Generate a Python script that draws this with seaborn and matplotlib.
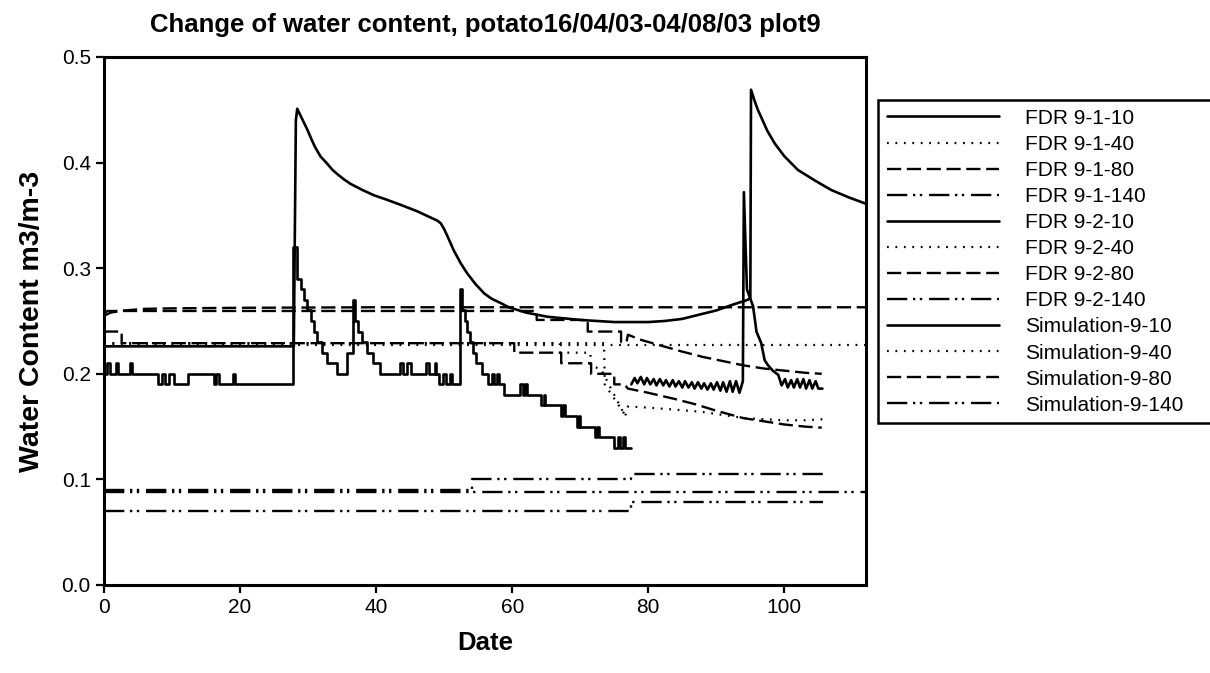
import matplotlib
matplotlib.use("Agg")
import matplotlib.pyplot as plt
import seaborn as sns

# ---------------- data ----------------
# FDR 9-1-10 : stepped record (steps-post), days 0 - 77.5
fdr_1_10_x = [0, 0.4, 0.9, 1.7, 2.0, 3.8, 4.1, 8.0, 8.5, 9.0, 9.6, 10.3, 12.4, 16.1, 16.5,
              16.9, 19.0, 19.2, 27.8, 28.3, 28.9, 29.4, 29.9, 30.4, 30.8, 31.3, 32.1,
              32.8, 34.3, 35.7, 36.6, 36.9, 37.4, 37.9, 38.6, 39.6, 40.5, 43.5, 44.0,
              44.6, 45.1, 47.3, 47.7, 48.6, 48.8, 49.3, 49.8, 50.3, 50.8, 51.2, 52.3,
              52.6, 53.0, 53.4, 53.8, 54.2, 54.7, 55.5, 56.5, 57.0, 57.3, 57.7, 58.0,
              58.8, 61.2, 61.6, 61.9, 62.2, 64.2, 64.6, 64.8, 67.2, 67.5, 67.7, 69.5,
              69.8, 70.0, 72.2, 72.5, 72.7, 75.0, 75.5, 75.8, 76.3, 76.6, 77.5]
fdr_1_10_y = [0.20, 0.21, 0.20, 0.21, 0.20, 0.21, 0.20, 0.19, 0.20, 0.19, 0.20, 0.19, 0.20, 0.19, 0.20,
              0.19, 0.20, 0.19, 0.32, 0.29, 0.28, 0.27, 0.26, 0.25, 0.24, 0.23, 0.22,
              0.21, 0.20, 0.22, 0.27, 0.25, 0.24, 0.23, 0.22, 0.21, 0.20, 0.21, 0.20,
              0.21, 0.20, 0.21, 0.20, 0.21, 0.20, 0.19, 0.20, 0.19, 0.20, 0.19, 0.28,
              0.26, 0.25, 0.24, 0.23, 0.22, 0.21, 0.20, 0.19, 0.20, 0.19, 0.20, 0.19,
              0.18, 0.19, 0.18, 0.19, 0.18, 0.17, 0.18, 0.17, 0.16, 0.17, 0.16, 0.15,
              0.16, 0.15, 0.14, 0.15, 0.14, 0.13, 0.14, 0.13, 0.14, 0.13, 0.13]

# FDR 9-2-10 : zig-zag record, days 77.5 - 105.6
fdr_2_10_x = [77.5, 78.0, 78.4, 78.9, 79.4, 79.8, 80.3, 80.8, 81.2, 81.7, 82.2, 82.6, 83.1, 83.6,
              84.0, 84.5, 85.0, 85.4, 85.9, 86.4, 86.8, 87.3, 87.8, 88.2, 88.7, 89.2, 89.6,
              90.1, 90.6, 91.0, 91.5, 92.0, 92.4, 92.9, 93.4, 93.9, 94.05, 94.5, 95.4, 95.9,
              96.6, 97.1, 97.6, 98.3, 99.1, 99.6, 100.1, 100.5, 101.0, 101.4, 101.9, 102.3,
              102.8, 103.2, 103.7, 104.1, 104.6, 105.0, 105.6]
fdr_2_10_y = [0.190, 0.196, 0.191, 0.197, 0.190, 0.196, 0.190, 0.195, 0.189, 0.195, 0.189, 0.194,
              0.188, 0.194, 0.188, 0.193, 0.187, 0.193, 0.187, 0.192, 0.186, 0.192, 0.186,
              0.191, 0.185, 0.191, 0.185, 0.192, 0.184, 0.192, 0.183, 0.193, 0.183, 0.193,
              0.182, 0.193, 0.372, 0.280, 0.264, 0.240, 0.229, 0.213, 0.208, 0.203, 0.199,
              0.189, 0.195, 0.187, 0.194, 0.187, 0.195, 0.187, 0.195, 0.186, 0.194, 0.186,
              0.193, 0.186, 0.186]

# FDR 9-1-40 (dotted)
fdr_1_40_x = [0, 67.0, 67.0, 71.5, 71.5, 73.0, 76.6, 77.0, 80.0, 84.0, 87.8, 91.0, 94.2, 97.0,
              100.0, 103.0, 105.7]
fdr_1_40_y = [0.229, 0.229, 0.220, 0.220, 0.207, 0.205, 0.160, 0.169, 0.168, 0.166, 0.164,
              0.161, 0.158, 0.157, 0.156, 0.156, 0.157]

# FDR 9-2-40 (dotted)
fdr_2_40_x = [0, 73.5, 73.6, 76.7]
fdr_2_40_y = [0.229, 0.229, 0.190, 0.160]

# FDR 9-1-80 (dashed)
fdr_1_80_x = [0, 0.5, 63.6, 63.6, 71.1, 71.1, 76.0, 76.0, 76.8, 77.0, 79.0, 81.7, 85.0, 88.0,
              91.0, 94.0, 97.0, 100.0, 103.0, 105.5]
fdr_1_80_y = [0.257, 0.2595, 0.2595, 0.251, 0.251, 0.240, 0.240, 0.230, 0.230, 0.237, 0.232,
              0.227, 0.221, 0.216, 0.212, 0.208, 0.205, 0.203, 0.201, 0.200]

# FDR 9-2-80 (dashed)
fdr_2_80_x = [0, 2.6, 2.6, 60.3, 60.3, 67.2, 67.2, 71.6, 71.6, 75.0, 75.0, 76.5, 77.0, 80.0,
              82.0, 84.0, 87.0, 90.0, 94.0, 97.0, 100.0, 103.0, 105.5]
fdr_2_80_y = [0.240, 0.240, 0.229, 0.229, 0.220, 0.220, 0.210, 0.210, 0.200, 0.200, 0.190,
              0.190, 0.186, 0.182, 0.179, 0.176, 0.171, 0.165, 0.158, 0.155, 0.152, 0.150, 0.149]

# FDR 9-1-140 / 9-2-140 (dash-dot-dot, stepped)
fdr_1_140_x = [0, 54.1, 54.1, 77.5, 77.5, 105.7]
fdr_1_140_y = [0.090, 0.090, 0.100, 0.100, 0.105, 0.105]
fdr_2_140_x = [0, 77.5, 77.5, 105.7]
fdr_2_140_y = [0.070, 0.070, 0.079, 0.079]

# Simulations
sim_10_x = [0, 27.9, 28.2, 28.4, 29.0, 29.9, 30.5, 31.0, 31.8, 32.8, 33.6, 34.5, 35.3, 36.2,
            38.0, 39.7, 41.5, 43.6, 46.0, 48.0, 49.0, 49.5, 50.0, 50.5, 51.4, 52.4, 53.4,
            54.6, 55.9, 57.0, 58.3, 59.5, 62.0, 65.2, 70.0, 75.0, 80.0, 82.4, 85.0, 87.3,
            90.0, 92.2, 94.6, 95.0, 95.1, 95.6, 96.1, 96.6, 97.5, 98.6, 100.0, 102.0,
            104.5, 106.9, 109.5, 112.0]
sim_10_y = [0.226, 0.226, 0.440, 0.451, 0.443, 0.431, 0.422, 0.415, 0.406, 0.399, 0.393,
            0.388, 0.384, 0.380, 0.374, 0.369, 0.365, 0.360, 0.354, 0.348, 0.345, 0.3425,
            0.337, 0.330, 0.317, 0.305, 0.295, 0.285, 0.276, 0.271, 0.267, 0.263, 0.258,
            0.254, 0.251, 0.249, 0.249, 0.250, 0.252, 0.2557, 0.260, 0.265, 0.270, 0.272,
            0.469, 0.459, 0.450, 0.443, 0.430, 0.418, 0.406, 0.393, 0.383, 0.374, 0.367,
            0.361]
sim_40_x = [0, 112.0]
sim_40_y = [0.227, 0.227]
sim_80_x = [0, 1.0, 3.0, 6.0, 10.0, 20.0, 40.0, 112.0]
sim_80_y = [0.255, 0.258, 0.260, 0.2615, 0.262, 0.2625, 0.263, 0.263]
sim_140_x = [0, 112.0]
sim_140_y = [0.0885, 0.0885]

labels = ["FDR 9-1-10", "FDR 9-1-40", "FDR 9-1-80", "FDR 9-1-140",
          "FDR 9-2-10", "FDR 9-2-40", "FDR 9-2-80", "FDR 9-2-140",
          "Simulation-9-10", "Simulation-9-40", "Simulation-9-80", "Simulation-9-140"]
x_ticks = [0, 20, 40, 60, 80, 100]
y_ticks = [0.0, 0.1, 0.2, 0.3, 0.4, 0.5]

# ---------------- styling ----------------
sns.set_theme(style="white")
plt.rcParams["font.family"] = ["Liberation Sans", "DejaVu Sans"]
plt.rcParams.update({"text.color": "black", "axes.labelcolor": "black",
                     "xtick.color": "black", "ytick.color": "black"})

solid = "-"
dotted = (0, (0.8, 3.0))
dashed = (0, (6.0, 2.4))
dashdotdot = (0, (8.6, 2.4, 1.0, 1.9, 1.0, 2.9))

series = [
    (fdr_1_10_x, fdr_1_10_y, solid, "steps-post"),
    (fdr_1_40_x, fdr_1_40_y, dotted, "default"),
    (fdr_1_80_x, fdr_1_80_y, dashed, "default"),
    (fdr_1_140_x, fdr_1_140_y, dashdotdot, "default"),
    (fdr_2_10_x, fdr_2_10_y, solid, "default"),
    (fdr_2_40_x, fdr_2_40_y, dotted, "default"),
    (fdr_2_80_x, fdr_2_80_y, dashed, "default"),
    (fdr_2_140_x, fdr_2_140_y, dashdotdot, "default"),
    (sim_10_x, sim_10_y, solid, "default"),
    (sim_40_x, sim_40_y, dotted, "default"),
    (sim_80_x, sim_80_y, dashed, "default"),
    (sim_140_x, sim_140_y, dashdotdot, "default"),
]

W, H = 1210, 673
fig = plt.figure(figsize=(W / 100, H / 100), dpi=100)
ax = fig.add_axes([104 / W, 1 - 585 / H, (866 - 104) / W, (585 - 57) / H])

for (xs, ys, ls, ds), lab in zip(series, labels):
    if ls == solid:
        lw = 1.9
    elif ls == dotted:
        lw = 1.6
    else:
        lw = 1.7
    sns.lineplot(x=xs, y=ys, ax=ax, color="black", linestyle=ls, drawstyle=ds,
                 linewidth=lw, estimator=None, sort=False, label=lab)

ax.set_xlim(0, 112)
ax.set_ylim(0, 0.5)
ax.set_xticks(x_ticks)
ax.set_yticks(y_ticks)
ax.set_yticklabels([f"{v:.1f}" for v in y_ticks])
ax.tick_params(direction="out", length=6, width=1.6, labelsize=15, colors="black",
               bottom=True, left=True)
for sp in ax.spines.values():
    sp.set_linewidth(2.2)
    sp.set_color("black")

ax.set_xlabel("Date", fontsize=18.5, fontweight="bold", labelpad=10)
ax.set_ylabel("Water Content m3/m-3", fontsize=20.5, fontweight="bold", labelpad=12)
ax.set_title("Change of water content, potato16/04/03-04/08/03 plot9",
             fontsize=18.5, fontweight="bold", pad=18)

leg = ax.legend(loc="upper left",
                bbox_to_anchor=(878 / W, (H - 412) / H, 420 / W, 312 / H),
                bbox_transform=fig.transFigure, mode="expand", borderaxespad=0,
                fontsize=15, handlelength=5.4, handletextpad=1.25, labelspacing=0.34,
                borderpad=0.42, frameon=True, fancybox=False, framealpha=1,
                edgecolor="black")
leg.get_frame().set_linewidth(1.8)
for t in leg.get_texts():
    t.set_color("black")

fig.savefig("out.png", dpi=100)
